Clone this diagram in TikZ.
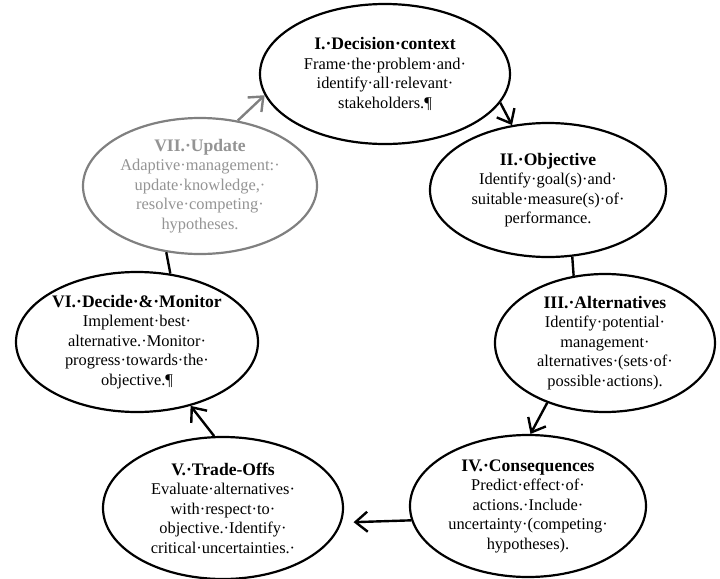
\documentclass[tikz,border=0pt]{standalone}
\usepackage{fontspec}
\setmainfont{Liberation Serif}
\usetikzlibrary{shapes.geometric, arrows.meta}
\tikzset{
  stage/.style={ellipse, draw=black, fill=white, line width=1.1pt, inner sep=0pt, align=center, font=\fontsize{8.2}{9.75}\selectfont},
  link/.style={line width=1.2pt},
}
\newcommand{\stagetitle}[1]{{\bfseries\fontsize{8.8}{9.75}\selectfont #1}}

\begin{document}
\begin{tikzpicture}[x=0.5pt, y=-0.5pt, >={Straight Barb[length=6pt,width=10pt]}]
  \useasboundingbox (0,0) rectangle (720,579);

  % Stages
  \node[stage, minimum width=125pt, minimum height=70pt] (i) at (385,74) {\stagetitle{I.·Decision·context}\\Frame·the·problem·and·\\identify·all·relevant·\\stakeholders.¶};
  \node[stage, minimum width=118pt, minimum height=67pt] (ii) at (548,190) {\stagetitle{II.·Objective}\\Identify·goal(s)·and·\\suitable·measure(s)·of·\\performance.};
  \node[stage, minimum width=110pt, minimum height=69pt] (iii) at (605,343) {\stagetitle{III.·Alternatives}\\Identify·potential·\\management·\\alternatives·(sets·of·\\possible·actions).};
  \node[stage, minimum width=118pt, minimum height=71pt] (iv) at (528,506) {\stagetitle{IV.·Consequences}\\Predict·effect·of·\\actions.·Include·\\uncertainty·(competing·\\hypotheses).};
  \node[stage, minimum width=120pt, minimum height=71pt] (v) at (223,508) {\stagetitle{V.·Trade-Offs}\\Evaluate·alternatives·\\with·respect·to·\\objective.·Identify·\\critical·uncertainties.·};
  \node[stage, minimum width=121pt, minimum height=70pt] (vi) at (137,342) {\stagetitle{VI.·Decide·\&·Monitor}\\Implement·best·\\alternative.·Monitor·\\progress·towards·the·\\objective.¶};
  \node[stage, draw=black!50, text=black!42, minimum width=117pt, minimum height=68pt] (vii) at (200,186) {\stagetitle{VII.·Update}\\Adaptive·management:·\\update·knowledge,·\\resolve·competing·\\hypotheses.};

  % Links
  \draw[->, link, black!50] (vii.60) -- (i.190);
  \draw[->, link] (i.-14) -- (ii.119);
  \draw[link] (ii.-70) -- (iii.115);
  \draw[->, link] (iii.226) -- (iv.88);
  \draw[->, link, shorten >=6pt] (iv.187) -- (v.-7);
  \draw[->, link] (v.97) -- (vi.-50);
  \draw[link] (vi.64) -- (vii.243);

\end{tikzpicture}
\end{document}
